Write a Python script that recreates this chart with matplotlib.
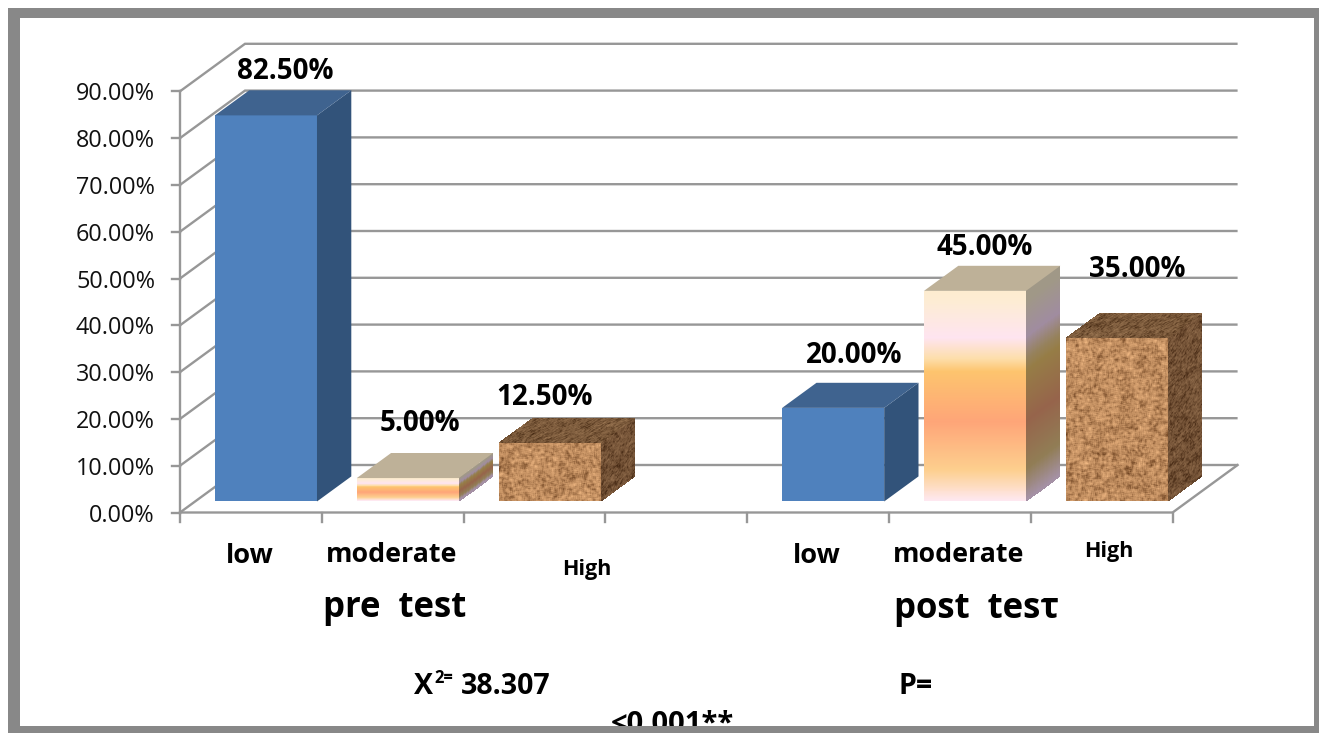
import numpy as np
import matplotlib
matplotlib.use("Agg")
import matplotlib.pyplot as plt
from matplotlib.patches import Polygon, Rectangle

# ---- data ----
categories = ["low", "moderate", "High", "low", "moderate", "High"]
groups = ["pre  test", "post  tes\u03c4"]
slots = [0, 1, 2, 4, 5, 6]
values = [82.5, 5.0, 12.5, 20.0, 45.0, 35.0]
value_labels = ["82.50%", "5.00%", "12.50%", "20.00%", "45.00%", "35.00%"]
fills = ["blue", "gradient", "cork", "blue", "gradient", "cork"]
y_ticks = [0, 10, 20, 30, 40, 50, 60, 70, 80, 90]

# ---- layout ----
W, H = 1319, 733
PX_X, PX_Y = 141.8, 4.68          # pixels per slot / per percent
X0_PX, Y0_PX = 180.0, 512.5       # pixel of chart origin, front plane
DEPTH_PX = (65.0, 47.5)           # pixel depth of the whole floor
BAR_NEAR, BAR_FAR = 0.232, 0.76   # bar depth range as a fraction of the floor
BAR_W = 102 / PX_X
FONT = ["Open Sans", "DejaVu Sans"]

fig = plt.figure(figsize=(W / 100, H / 100), dpi=100, facecolor="white")
ax = fig.add_axes([0, 0, 1, 1])
ax.set_xlim(-0.5 - X0_PX / PX_X, -0.5 + (W - X0_PX) / PX_X)
ax.set_ylim(-(H - Y0_PX) / PX_Y, Y0_PX / PX_Y)
ax.axis("off")


def proj(x, v, d):
    """Oblique projection: slot x, value v, depth fraction d -> data coords."""
    return x + d * DEPTH_PX[0] / PX_X, v + d * DEPTH_PX[1] / PX_Y


def hash_noise(h, w, seed, blur):
    yy, xx = np.mgrid[0:h, 0:w]
    n = np.sin(xx * 12.9898 + yy * 78.233 + seed * 37.719) * 43758.5453
    n = n - np.floor(n)
    k = np.ones(blur) / blur
    pad = blur
    n = np.pad(n, pad, mode="wrap")
    n = np.apply_along_axis(lambda r: np.convolve(r, k, mode="same"), 0, n)
    n = np.apply_along_axis(lambda r: np.convolve(r, k, mode="same"), 1, n)
    n = n[pad:-pad, pad:-pad]
    return (n - n.mean()) / n.std()


def quad(p_tl, p_tr, p_bl, p_br, rgb, z):
    """Draw an RGB array (top row first) on a skewed quad."""
    h, w = rgb.shape[:2]
    u = np.linspace(0, 1, w + 1)[None, :]
    t = np.linspace(0, 1, h + 1)[:, None]
    X = (1 - t) * ((1 - u) * p_tl[0] + u * p_tr[0]) + t * ((1 - u) * p_bl[0] + u * p_br[0])
    Y = (1 - t) * ((1 - u) * p_tl[1] + u * p_tr[1]) + t * ((1 - u) * p_bl[1] + u * p_br[1])
    return ax.pcolormesh(X, Y, np.clip(rgb, 0, 1), shading="flat", zorder=z,
                         antialiased=False, edgecolors="none", linewidth=0)


GRAD_STOPS = np.array([0, .05, .22, .32, .38, .62, .85, 1.0])
GRAD_RGB = np.array([[253, 236, 208], [253, 236, 212], [254, 228, 240], [253, 222, 170],
                     [253, 196, 110], [254, 165, 120], [253, 207, 142], [254, 232, 240]]) / 255
SIDE_RGB = np.array([[160, 152, 135], [160, 152, 135], [160, 140, 160], [150, 130, 95],
                     [150, 125, 70], [150, 100, 75], [145, 125, 85], [165, 145, 165]]) / 255


def gradient(stops_rgb, h, w):
    t = np.linspace(0, 1, max(h, 2))
    col = np.stack([np.interp(t, GRAD_STOPS, stops_rgb[:, i]) for i in range(3)], axis=1)
    return np.repeat(col[:, None, :], w, axis=1)


def cork(h, w, seed, base, amp, blur):
    n = 0.8 * hash_noise(h, w, seed, blur) + 0.5 * hash_noise(h, w, seed + 5, blur + 4)
    n = np.where(n < 0, n * 1.25, n * 0.8)
    f = amp * n
    return np.clip(np.array(base)[None, None, :] + f[:, :, None] * np.array([1.0, .9, .75]), 0, 1)


# ---- walls, gridlines, ticks ----
GRID = "#979797"
LW = 1.7
for v in y_ticks:
    ax.plot(*zip(proj(-0.5, v, 0), proj(-0.5, v, 1), proj(6.5, v, 1)),
            color=GRID, lw=LW, zorder=1, solid_capstyle="butt", solid_joinstyle="miter")
    ax.plot([-0.5 - 8 / PX_X, -0.5], [v, v], color=GRID, lw=LW, zorder=1)
    ax.annotate(f"{v:.2f}%", xy=(-0.5, v), xytext=(-25, -3), textcoords="offset pixels",
                ha="right", va="center", family=FONT, fontsize=16.8, color="#111111")
ax.plot([-0.5, -0.5], [0, 90], color=GRID, lw=LW, zorder=1)
ax.plot(*zip(proj(-0.5, 0, 0), proj(6.5, 0, 0), proj(6.5, 0, 1)),
        color=GRID, lw=LW, zorder=1, solid_joinstyle="miter")
for s in np.arange(-0.5, 7.0, 1.0):
    ax.plot([s, s], [0, -9 / PX_Y], color=GRID, lw=LW, zorder=1)

# ---- bars ----
label_offsets = [(-15, 19), (-22, 30), (-39, 20), (-13, 27), (-25, 18), (-14, 43)]
for i, (s, v, fill) in enumerate(zip(slots, values, fills)):
    xl, xr = s - BAR_W / 2, s + BAR_W / 2
    f_tl, f_tr = proj(xl, v, BAR_NEAR), proj(xr, v, BAR_NEAR)
    f_bl, f_br = proj(xl, 0, BAR_NEAR), proj(xr, 0, BAR_NEAR)
    b_tl, b_tr = proj(xl, v, BAR_FAR), proj(xr, v, BAR_FAR)
    b_br = proj(xr, 0, BAR_FAR)
    z = 3 + i * 0.01
    if fill == "blue":
        ax.add_patch(Polygon([f_tl, f_tr, f_br, f_bl], fc="#4F81BD", ec="none", zorder=z))
        ax.add_patch(Polygon([f_tr, b_tr, b_br, f_br], fc="#32537A", ec="none", zorder=z))
        ax.add_patch(Polygon([f_tl, b_tl, b_tr, f_tr], fc="#3F638F", ec="none", zorder=z))
    elif fill == "gradient":
        fh = int(round(v * PX_Y))
        quad(f_tl, f_tr, f_bl, f_br, gradient(GRAD_RGB, fh, 2), z)
        quad(f_tr, b_tr, f_br, b_br, gradient(SIDE_RGB, fh, 2), z)
        ax.add_patch(Polygon([f_tl, b_tl, b_tr, f_tr], fc="#BEB198", ec="none", zorder=z))
    else:
        fh = int(round(v * PX_Y))
        quad(f_tl, f_tr, f_bl, f_br,
             cork(fh, 102, i + 1, (0.75, 0.55, 0.37), 0.07, 3), z)
        quad(f_tr, b_tr, f_br, b_br,
             cork(fh, 34, i + 11, (0.45, 0.32, 0.21), 0.05, 2), z)
        quad(b_tl, b_tr, f_tl, f_tr,
             cork(25, 102, i + 21, (0.48, 0.35, 0.23), 0.05, 2), z)
    top = proj(s, v, BAR_FAR)
    ox, oy = label_offsets[i]
    ax.annotate(value_labels[i], xy=top, xytext=(ox, oy), textcoords="offset pixels",
                ha="center", va="center", family=FONT, fontweight="bold",
                fontsize=20, color="black", zorder=6)


def px_text(x, y, s, size, **kw):
    kw.setdefault("ha", "center")
    kw.setdefault("va", "center")
    kw.setdefault("fontweight", "bold")
    return fig.text(x / W, 1 - y / H, s, family=FONT, fontsize=size, color="black", **kw)


# ---- category and group labels ----
cat_px = [(250, 556, 19.5), (392, 555, 19.3), (587, 570, 15.5), (817, 556, 19.5), (959, 555, 19.3), (1109, 552, 15.5)]
for name, (x, y, size) in zip(categories, cat_px):
    px_text(x, y, name, size)
px_text(395, 608, groups[0], 25)
px_text(977, 609, groups[1], 25)

# ---- statistics ----
px_text(424, 686, "X", 20.5)
px_text(444, 678, "2=", 12)
px_text(506, 686, "38.307", 20.5)
px_text(916, 686, "P=", 20.5)
px_text(672.5, 724, "<0.001**", 21, zorder=2)

# ---- frame ----
FR = "#888888"
for (x0, y0, x1, y1) in [(8, 8, 1319, 18), (8, 8, 20, 733), (1314, 8, 1319, 733), (8, 726, 1319, 733)]:
    fig.add_artist(Rectangle((x0 / W, 1 - y1 / H), (x1 - x0) / W, (y1 - y0) / H,
                             transform=fig.transFigure, fc=FR, ec="none", zorder=20))

fig.savefig("out.png", dpi=100, facecolor="white")
